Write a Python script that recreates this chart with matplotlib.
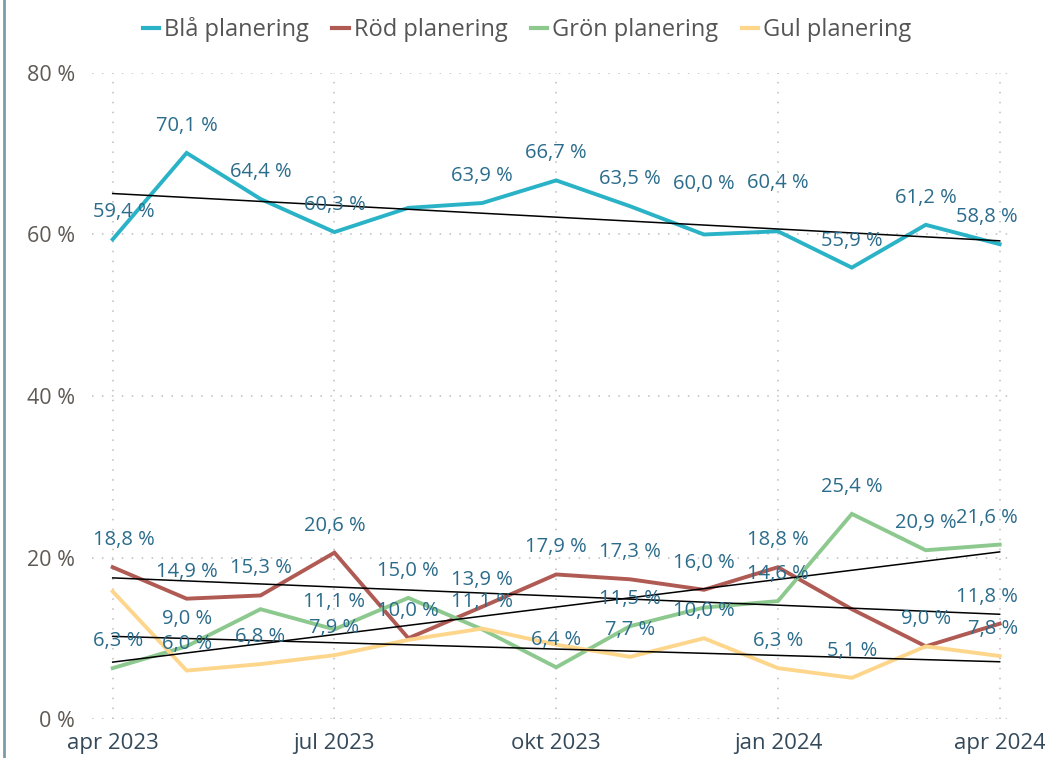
import matplotlib
matplotlib.use("Agg")
import matplotlib.pyplot as plt
from matplotlib.lines import Line2D
import numpy as np

# ---------------- data ----------------
months = ["apr 2023", "maj 2023", "jun 2023", "jul 2023", "aug 2023", "sep 2023",
          "okt 2023", "nov 2023", "dec 2023", "jan 2024", "feb 2024", "mar 2024", "apr 2024"]
tick_labels = ["apr 2023", "jul 2023", "okt 2023", "jan 2024", "apr 2024"]
tick_months = [0, 3, 6, 9, 12]

series_names = ["Blå planering", "Röd planering", "Grön planering", "Gul planering"]
bla = [59.4, 70.1, 64.4, 60.3, 63.3, 63.9, 66.7, 63.5, 60.0, 60.4, 55.9, 61.2, 58.8]
rod = [18.8, 14.9, 15.3, 20.6, 10.0, 13.9, 17.9, 17.3, 16.0, 18.8, 13.6, 9.0, 11.8]
gron = [6.3, 9.0, 13.6, 11.1, 15.0, 11.1, 6.4, 11.5, 13.8, 14.6, 25.4, 20.9, 21.6]
gul = [15.8, 6.0, 6.8, 7.9, 9.8, 11.2, 9.2, 7.7, 10.0, 6.3, 5.1, 9.0, 7.8]

# which points carry a data label (Power BI hides overlapping ones)
bla_labelled = [0, 1, 2, 3, 5, 6, 7, 8, 9, 10, 11, 12]
rod_labelled = [0, 1, 2, 3, 4, 5, 6, 7, 8, 9, 11, 12]
gron_labelled = [0, 1, 3, 4, 5, 6, 7, 9, 10, 11, 12]
gul_labelled = [1, 2, 3, 7, 8, 9, 10, 12]

# ---------------- style ----------------
colors = ["#2AB3C6", "#B05A54", "#8DC98E", "#FDD68C"]
label_color = "#2B6C8C"
FONT = ["Open Sans", "DejaVu Sans"]
plt.rcParams["font.family"] = FONT

W, H = 1045, 758
fig = plt.figure(figsize=(W / 100, H / 100), dpi=100)
ax = fig.add_axes([92 / W, 1 - 719 / H, (1010 - 92) / W, (719 - 73) / H])
ax.set_xlim(-0.28, 12.14)
ax.set_ylim(0, 80)

x = np.arange(len(months))
all_series = [bla, rod, gron, gul]
labelled = [bla_labelled, rod_labelled, gron_labelled, gul_labelled]

# grid
for yv in [0, 20, 40, 60, 80]:
    ax.axhline(yv, color="#BDBDBD", lw=1.1, ls=(0, (1, 5.5)), zorder=0)
for xv in tick_months:
    ax.axvline(xv, color="#BDBDBD", lw=1.1, ls=(0, (1, 5.5)), zorder=0, ymax=1.005)

for s, c, name in zip(all_series, colors, series_names):
    ax.plot(x, s, color=c, lw=2.8, solid_joinstyle="miter", label=name, zorder=2)

# trend lines
for s in all_series:
    k, m = np.polyfit(x, s, 1)
    ax.plot(x, k * x + m, color="black", lw=1.1, zorder=3)

ax.set_xticks(tick_months)
ax.set_xticklabels(tick_labels, fontsize=16, color="#34495A")
ax.set_yticks([0, 20, 40, 60, 80])
ax.set_yticklabels(["0 %", "20 %", "40 %", "60 %", "80 %"], fontsize=15.5, color="#5F5A55")
ax.tick_params(axis="both", length=0)
ax.tick_params(axis="x", pad=10)
ax.tick_params(axis="y", pad=12)
for sp in ax.spines.values():
    sp.set_visible(False)

# data labels
extra_offset = {(0, 8): -24, (0, 9): -21}
texts = []
for si, (s, idxs) in enumerate(zip(all_series, labelled)):
    for i in idxs:
        off = -27 + extra_offset.get((si, i), 0)
        t = ax.annotate(f"{s[i]:.1f} %".replace(".", ","), (x[i], s[i]),
                        xytext=(0, -off * 0.72), textcoords="offset points",
                        ha="center", va="center", fontsize=14.5, color=label_color,
                        zorder=5)
        texts.append(t)

fig.canvas.draw()
r = fig.canvas.get_renderer()
for t in texts:
    bb = t.get_window_extent(r)
    shift = 0
    if bb.x0 < 93:
        shift = 93 - bb.x0
    elif bb.x1 > 1018:
        shift = 1018 - bb.x1
    if shift:
        ox, oy = t.xyann
        t.xyann = (ox + shift * 0.72, oy)

# legend
handles = [Line2D([0], [0], color=c, lw=3) for c in colors]
leg = fig.legend(handles, series_names, loc="center", bbox_to_anchor=(527 / W, 1 - 30 / H),
                 ncol=4, frameon=False, fontsize=17, handlelength=0.7,
                 handletextpad=0.2, columnspacing=1.0, labelcolor="#555555")

# left border line
fig.add_artist(Line2D([4 / W, 4 / W], [0, 1], color="#7C9BAA", lw=2, transform=fig.transFigure))

fig.savefig("out.png", dpi=100)
